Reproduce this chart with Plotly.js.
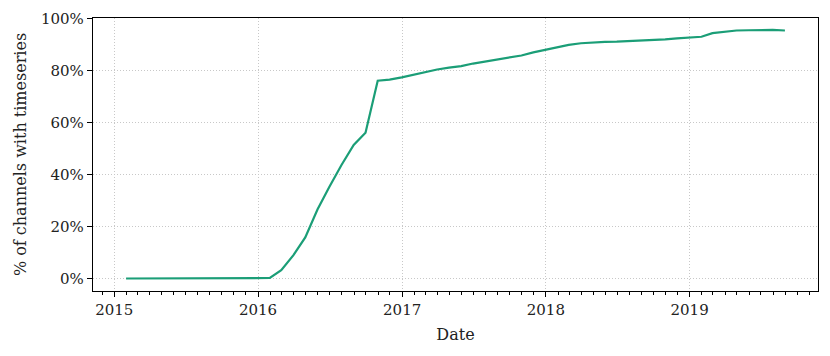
<!DOCTYPE html>
<html>
<head>
<meta charset="utf-8">
<script src="https://cdn.plot.ly/plotly-3.0.1.min.js"></script>
<style>
  body { margin: 0; background: #fff; }
  #chart { width: 830px; height: 356px; }
</style>
</head>
<body>
<div id="chart"></div>
<script>
// month-end samples, share of channels that have a timeseries (%)
var dates = [
  '2015-01-31', '2015-02-28', '2015-03-31', '2015-04-30', '2015-05-31', '2015-06-30',
  '2015-07-31', '2015-08-31', '2015-09-30', '2015-10-31', '2015-11-30', '2015-12-31',
  '2016-01-31', '2016-02-29', '2016-03-31', '2016-04-30', '2016-05-31', '2016-06-30',
  '2016-07-31', '2016-08-31', '2016-09-30', '2016-10-31', '2016-11-30', '2016-12-31',
  '2017-01-31', '2017-02-28', '2017-03-31', '2017-04-30', '2017-05-31', '2017-06-30',
  '2017-07-31', '2017-08-31', '2017-09-30', '2017-10-31', '2017-11-30', '2017-12-31',
  '2018-01-31', '2018-02-28', '2018-03-31', '2018-04-30', '2018-05-31', '2018-06-30',
  '2018-07-31', '2018-08-31', '2018-09-30', '2018-10-31', '2018-11-30', '2018-12-31',
  '2019-01-31', '2019-02-28', '2019-03-31', '2019-04-30', '2019-05-31', '2019-06-30',
  '2019-07-31', '2019-08-31'
];
var pct = [
  0.0, 0.0, 0.0, 0.0, 0.0, 0.0, 0.0, 0.0, 0.0, 0.0, 0.05, 0.1,
  0.2, 3.2, 9.0, 15.8, 26.5, 35.2, 43.6, 51.3, 56.0, 76.0, 76.4, 77.3,
  78.4, 79.4, 80.3, 81.0, 81.6, 82.6, 83.4, 84.1, 85.0, 85.7, 86.9, 87.8,
  88.8, 89.8, 90.4, 90.7, 90.9, 91.0, 91.2, 91.4, 91.5, 91.9, 92.3, 92.6,
  92.9, 94.3, 94.9, 95.3, 95.4, 95.5, 95.5, 95.3
];
var yTicks = [0, 20, 40, 60, 80, 100];

var font = 'DejaVu Serif';

var trace = {
  x: dates,
  y: pct,
  type: 'scatter',
  mode: 'lines',
  line: { color: '#1b9e77', width: 2.2 },
  hoverinfo: 'skip'
};

var layout = {
  width: 830,
  height: 356,
  margin: { l: 92.5, r: 11.7, t: 18, b: 65.3 },
  paper_bgcolor: '#fff',
  plot_bgcolor: '#fff',
  showlegend: false,
  font: { family: font, size: 15, color: '#222' },
  xaxis: {
    type: 'date',
    range: ['2014-11-08', '2019-11-23'],
    tick0: '2015-01-01',
    dtick: 'M12',
    tickformat: '%Y',
    ticks: 'outside',
    ticklen: 5,
    tickwidth: 1,
    tickcolor: '#000',
    showline: true,
    mirror: true,
    linecolor: '#000',
    linewidth: 1.2,
    showgrid: true,
    gridcolor: '#c8c8c8',
    griddash: '1px,2px',
    gridwidth: 1,
    zeroline: false,
    minor: { dtick: 'M1', ticks: 'outside', ticklen: 3, tickcolor: '#000', showgrid: false },
    title: { text: 'Date', font: { family: font, size: 16, color: '#222' }, standoff: 10 }
  },
  yaxis: {
    range: [-4.8, 100.1],
    tickvals: yTicks,
    ticktext: yTicks.map(function (v) { return v + '%'; }),
    ticks: 'outside',
    ticklen: 5,
    tickwidth: 1,
    tickcolor: '#000',
    showline: true,
    mirror: true,
    linecolor: '#000',
    linewidth: 1.2,
    showgrid: true,
    gridcolor: '#c8c8c8',
    griddash: '1px,2px',
    gridwidth: 1,
    zeroline: false,
    title: { text: '% of channels with timeseries', font: { family: font, size: 16, color: '#222' }, standoff: 10 }
  }
};

Plotly.newPlot('chart', [trace], layout, { staticPlot: true, displayModeBar: false });
</script>
</body>
</html>
